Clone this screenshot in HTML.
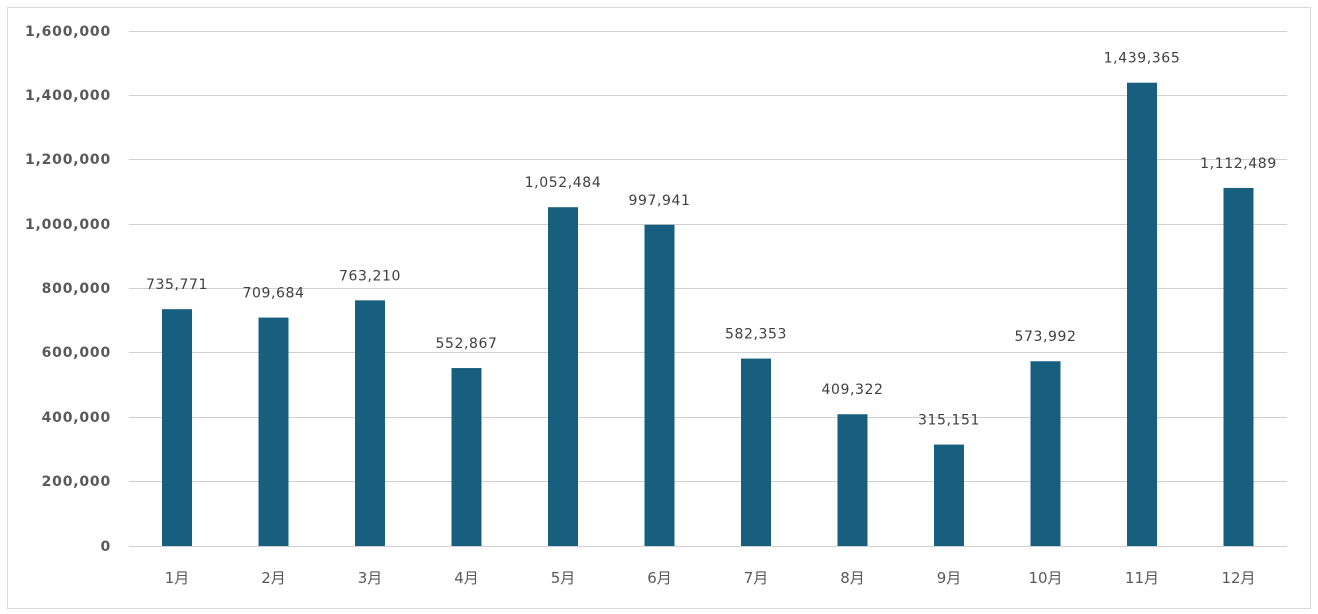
<!DOCTYPE html>
<html><head><meta charset="utf-8"><style>
body{margin:0;background:#fff;}
svg{display:block;font-family:"DejaVu Sans","Noto Sans CJK JP",sans-serif;}
</style></head><body>
<svg width="1318" height="614" xmlns="http://www.w3.org/2000/svg">
<rect x="7.5" y="7.5" width="1303" height="601" fill="#fff" stroke="#d9d9d9"/>
<g stroke="#d0d0d0" stroke-width="1">
<line x1="129" x2="1287" y1="31.5" y2="31.5"/>
<line x1="129" x2="1287" y1="95.5" y2="95.5"/>
<line x1="129" x2="1287" y1="159.5" y2="159.5"/>
<line x1="129" x2="1287" y1="224.5" y2="224.5"/>
<line x1="129" x2="1287" y1="288.5" y2="288.5"/>
<line x1="129" x2="1287" y1="352.5" y2="352.5"/>
<line x1="129" x2="1287" y1="417.5" y2="417.5"/>
<line x1="129" x2="1287" y1="481.5" y2="481.5"/>
<line x1="129" x2="1287" y1="546.5" y2="546.5"/>
</g>
<g fill="#595959" font-size="14" font-weight="bold" text-anchor="end" letter-spacing="0.8">
<text x="111" y="36">1,600,000</text>
<text x="111" y="100">1,400,000</text>
<text x="111" y="164">1,200,000</text>
<text x="111" y="229">1,000,000</text>
<text x="111" y="293">800,000</text>
<text x="111" y="357">600,000</text>
<text x="111" y="422">400,000</text>
<text x="111" y="486">200,000</text>
<text x="111" y="551">0</text>
</g>
<g fill="#175e7f" id="bars"></g>
<g id="lbl" fill="#404040" font-size="14" text-anchor="middle" letter-spacing="0.6"></g>
<g id="cat" fill="#595959" font-size="15" text-anchor="middle"></g>
<script>
var v=[735771,709684,763210,552867,1052484,997941,582353,409322,315151,573992,1439365,1112489];
var ns="http://www.w3.org/2000/svg",b=document.getElementById('bars'),l=document.getElementById('lbl'),c=document.getElementById('cat');
for(var i=0;i<12;i++){var cx=177+i*96.5,h=v[i]/1600000*515,y=546-h;
var r=document.createElementNS(ns,'rect');r.setAttribute('x',cx-15);r.setAttribute('y',y);r.setAttribute('width',30);r.setAttribute('height',h);b.appendChild(r);
var t=document.createElementNS(ns,'text');t.setAttribute('x',cx);t.setAttribute('y',y-20);t.textContent=v[i].toLocaleString('en-US');l.appendChild(t);
var k=document.createElementNS(ns,'text');k.setAttribute('x',cx);k.setAttribute('y',583);k.textContent=(i+1)+'月';c.appendChild(k);}
</script>
</svg>
</body></html>
